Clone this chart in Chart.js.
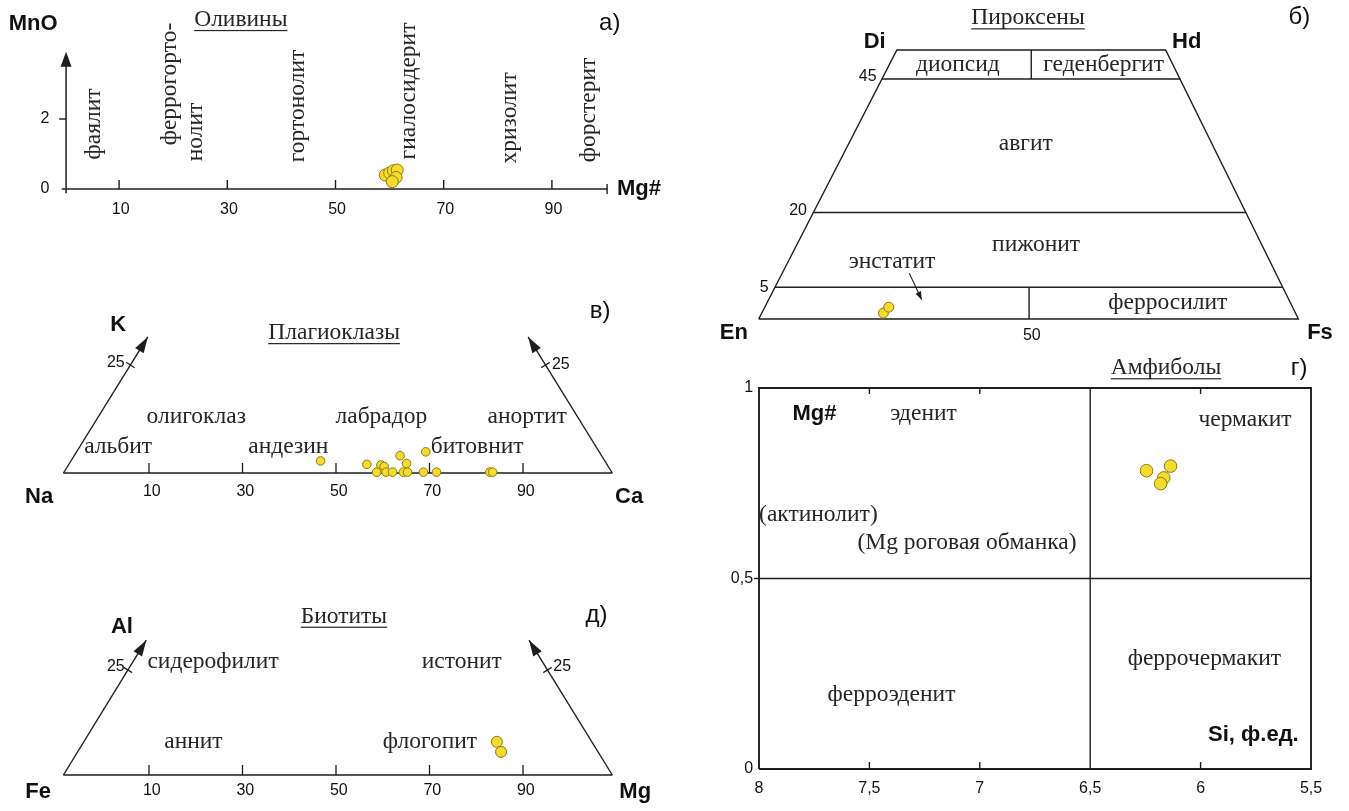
<!DOCTYPE html>
<html>
<head>
<meta charset="utf-8">
<script src="https://cdn.jsdelivr.net/npm/chart.js@4.4.1/dist/chart.umd.min.js"></script>
<style>
  html, body { margin: 0; background: #fff; }
  canvas { display: block; }
</style>
</head>
<body>
<canvas id="fig" width="1349" height="811"></canvas>
<script>
// ---- values ----
// а) olivine: Mg# vs MnO
const olivineMg = [59.2, 60.0, 60.7, 61.4, 61.2, 60.5];
const olivineMnO = [0.40, 0.46, 0.52, 0.54, 0.33, 0.21];
const olivineTicks = [10, 30, 50, 70, 90];
const olivineFields = ["фаялит", "феррогорто-", "нолит", "гортонолит", "гиалосидерит", "хризолит", "форстерит"];

// б) pyroxene quadrilateral (x along En-Fs, y = Wo)
const pyroxX = [23.1, 24.1];
const pyroxY = [1.1, 2.2];
const pyroxLevels = ["45", "20", "5"];

// в) plagioclase (Na-Ca base, K up)
const plagCa = [46.7, 56.6, 59.6, 60.3, 58.7, 60.7, 62.1, 63.7, 65.1, 64.4, 65.3, 69.2, 68.7, 71.5, 82.9, 83.5];
const plagK = [2.8, 2.0, 1.85, 1.5, 0.2, 0.2, 0.2, 4.0, 2.2, 0.2, 0.2, 4.9, 0.2, 0.2, 0.2, 0.2];

// д) biotite (Fe-Mg base, Al up)
const biotMg = [84.4, 85.3];
const biotAl = [7.9, 5.5];

const ternTicks = [10, 30, 50, 70, 90];

// г) amphibole: Si (f.u.) vs Mg#
const amphSi = [6.245, 6.136, 6.167, 6.181];
const amphMg = [0.783, 0.795, 0.764, 0.749];
const amphTicksX = [8, 7.5, 7, 6.5, 6, 5.5];
const amphTickLabelsX = ["8", "7,5", "7", "6,5", "6", "5,5"];
const amphTicksY = [0, 0.5, 1];
const amphTickLabelsY = ["0", "0,5", "1"];

// ---- layout ----
const W = 1349, H = 811;
const SERIF = '23.5px "Liberation Serif", "Times New Roman", serif';
const BOLD = 'bold 22px "Liberation Sans", Arial, sans-serif';
const TICK = '16px "Liberation Sans", Arial, sans-serif';
const TAG = '24px "Liberation Sans", Arial, sans-serif';
const INK = "#1e1e1e";
const FILL = "#f3dc2c";
const EDGE = "#8c7a12";

// value v is drawn at p0 + k*v pixels
function sx(p0, k) {
  const a = -p0 / k, b = (W - p0) / k;
  return { type: "linear", axis: "x", display: false, min: Math.min(a, b), max: Math.max(a, b), reverse: k < 0 };
}
function sy(p0, k) {
  const a = -p0 / k, b = (H - p0) / k;
  return { type: "linear", axis: "y", display: false, min: Math.min(a, b), max: Math.max(a, b), reverse: k > 0 };
}

const scales = {
  xA: sx(65, 5.41), yA: sy(189, -35),
  xB: sx(758.7, 5.397), yB: sy(319, -5.38),
  xV: sx(102.25, 4.675), yV: sy(473, -4.32),
  xD: sx(102.25, 4.675), yD: sy(775, -4.2),
  xG: sx(759 + 220.8 * 8, -220.8), yG: sy(769, -381)
};

function line(p, pts, w) {
  return {
    xAxisID: "x" + p, yAxisID: "y" + p, order: 1,
    data: pts.map(([x, y]) => ({ x, y })),
    showLine: true, borderColor: INK, borderWidth: w || 1.4,
    pointRadius: 0, tension: 0, fill: false
  };
}
function dots(p, xs, ys, r) {
  return {
    xAxisID: "x" + p, yAxisID: "y" + p, order: 0,
    data: xs.map((x, i) => ({ x, y: ys[i] })),
    pointRadius: r, backgroundColor: FILL, borderColor: EDGE, borderWidth: 1
  };
}

// diagram outlines
const vArrowL = [[-8.3, 0], [9.75, 31.5]], vArrowR = [[109.1, 0], [91.1, 31.5]];
const dArrowL = [[-8.3, 0], [9.4, 32.1]], dArrowR = [[109.1, 0], [91.3, 32.1]];
const bArrow = [[27.9, 8.5], [30.2, 3.6]];

const datasets = [
  dots("A", olivineMg, olivineMnO, 6),
  dots("B", pyroxX, pyroxY, 5),
  dots("V", plagCa, plagK, 4.3),
  dots("D", biotMg, biotAl, 5.5),
  dots("G", amphSi, amphMg, 6.3),
  // а)
  line("A", [[-0.6, 0], [100.2, 0]], 1.5),
  line("A", [[0.2, -0.12], [0.2, 3.6]], 1.5),
  // б)
  line("B", [[0, 0], [100, 0], [75.4, 50], [25.6, 50], [0, 0]]),
  line("B", [[22.8, 44.6], [78.1, 44.6]]),
  line("B", [[10.1, 19.8], [90.3, 19.8]]),
  line("B", [[3.0, 5.9], [97.1, 5.9]]),
  line("B", [[50.5, 44.6], [50.5, 50]]),
  line("B", [[50.1, 0], [50.1, 5.9]]),
  line("B", bArrow, 1.1),
  // в)
  line("V", [vArrowL[0], vArrowR[0]]),
  line("V", vArrowL), line("V", vArrowR),
  // д)
  line("D", [dArrowL[0], dArrowR[0]]),
  line("D", dArrowL), line("D", dArrowR),
  // г)
  line("G", [[8, 0], [5.5, 0], [5.5, 1], [8, 1], [8, 0]], 1.9),
  line("G", [[6.5, 0], [6.5, 1]]),
  line("G", [[8, 0.5], [5.5, 0.5]])
];

// text placements: panel, text, x, y, font, options
const notes = [
  ["A", "Оливины", 32.5, 4.83, SERIF, { u: 1 }],
  ["A", "MnO", -5.9, 4.71, BOLD],
  ["A", "а)", 100.7, 4.74, TAG],
  ["A", "Mg#", 106.1, 0, BOLD],
  ["A", "0", -3.7, 0, TICK],
  ["A", "2", -3.7, 2, TICK],
  ["A", olivineFields[0], 5.4, 1.86, SERIF, { rot: 1 }],
  ["A", olivineFields[1], 19.4, 3.0, SERIF, { rot: 1 }],
  ["A", olivineFields[2], 24.1, 1.63, SERIF, { rot: 1 }],
  ["A", olivineFields[3], 43.1, 2.37, SERIF, { rot: 1 }],
  ["A", olivineFields[4], 63.6, 2.8, SERIF, { rot: 1 }],
  ["A", olivineFields[5], 82.3, 2.03, SERIF, { rot: 1 }],
  ["A", olivineFields[6], 96.9, 2.26, SERIF, { rot: 1 }],

  ["B", "Пироксены", 49.9, 55.9, SERIF, { u: 1 }],
  ["B", "б)", 100.2, 56.1, TAG],
  ["B", "Di", 21.5, 51.5, BOLD],
  ["B", "Hd", 79.3, 51.5, BOLD],
  ["B", pyroxLevels[0], 20.2, 45.0, TICK],
  ["B", pyroxLevels[1], 7.3, 20.1, TICK],
  ["B", pyroxLevels[2], 1.0, 5.9, TICK],
  ["B", "диопсид", 36.9, 47.2, SERIF],
  ["B", "геденбергит", 63.9, 47.2, SERIF],
  ["B", "авгит", 49.5, 32.5, SERIF],
  ["B", "пижонит", 51.4, 13.8, SERIF],
  ["B", "энстатит", 24.7, 10.6, SERIF],
  ["B", "ферросилит", 75.8, 3.0, SERIF],
  ["B", "En", -4.6, -2.6, BOLD],
  ["B", "50", 50.6, -3.0, TICK],
  ["B", "Fs", 104.0, -2.6, BOLD],

  ["V", "Плагиоклазы", 49.6, 32.4, SERIF, { u: 1 }],
  ["V", "в)", 106.5, 37.3, TAG],
  ["V", "K", 3.4, 34.3, BOLD],
  ["V", "олигоклаз", 20.1, 13.0, SERIF],
  ["V", "альбит", 3.4, 6.0, SERIF],
  ["V", "андезин", 39.8, 6.0, SERIF],
  ["V", "лабрадор", 59.7, 13.0, SERIF],
  ["V", "анортит", 90.9, 13.0, SERIF],
  ["V", "битовнит", 80.2, 6.0, SERIF],
  ["V", "25", 2.9, 25.5, TICK],
  ["V", "25", 98.1, 25.0, TICK],
  ["V", "Na", -13.5, -5.6, BOLD],
  ["V", "Ca", 112.7, -5.6, BOLD],

  ["D", "Биотиты", 51.7, 37.7, SERIF, { u: 1 }],
  ["D", "д)", 105.7, 38.1, TAG],
  ["D", "Al", 4.2, 35.3, BOLD],
  ["D", "25", 2.9, 25.7, TICK],
  ["D", "сидерофилит", 23.7, 27.0, SERIF],
  ["D", "истонит", 76.9, 27.0, SERIF],
  ["D", "25", 98.4, 25.7, TICK],
  ["D", "аннит", 19.5, 7.9, SERIF],
  ["D", "флогопит", 70.1, 7.9, SERIF],
  ["D", "Fe", -13.7, -4.0, BOLD],
  ["D", "Mg", 114, -4.0, BOLD],

  ["G", "Амфиболы", 6.157, 1.052, SERIF, { u: 1 }],
  ["G", "г)", 5.554, 1.052, TAG],
  ["G", "Mg#", 7.749, 0.931, BOLD],
  ["G", "эденит", 7.255, 0.932, SERIF],
  ["G", "чермакит", 5.799, 0.916, SERIF],
  ["G", "(актинолит)", 7.731, 0.667, SERIF],
  ["G", "(Mg роговая обманка)", 7.058, 0.593, SERIF],
  ["G", "ферроэденит", 7.4, 0.194, SERIF],
  ["G", "феррочермакит", 5.983, 0.290, SERIF],
  ["G", "Si, ф.ед.", 5.761, 0.0906, BOLD]
];
olivineTicks.forEach(t => notes.push(["A", String(t), t + 0.3, -0.6, TICK]));
ternTicks.forEach(t => notes.push(["V", String(t), t + 0.6, -4.3, TICK]));
ternTicks.forEach(t => notes.push(["D", String(t), t + 0.6, -3.6, TICK]));
amphTicksX.forEach((t, i) => notes.push(["G", amphTickLabelsX[i], t, -0.0525, TICK]));
amphTicksY.forEach((t, i) => notes.push(["G", amphTickLabelsY[i], 8.027, t, TICK, { align: "right" }]));

const annot = {
  id: "annot",
  afterDatasetsDraw(chart) {
    const ctx = chart.ctx;
    const P = (p, x, y) => [chart.scales["x" + p].getPixelForValue(x), chart.scales["y" + p].getPixelForValue(y)];
    ctx.save();
    ctx.strokeStyle = INK;
    ctx.fillStyle = INK;

    function seg(a, b, w) {
      ctx.lineWidth = w || 1.3;
      ctx.beginPath(); ctx.moveTo(a[0], a[1]); ctx.lineTo(b[0], b[1]); ctx.stroke();
    }
    function head(from, to, len, wid) {
      const ang = Math.atan2(to[1] - from[1], to[0] - from[0]);
      ctx.save();
      ctx.translate(to[0], to[1]); ctx.rotate(ang);
      ctx.beginPath(); ctx.moveTo(0, 0); ctx.lineTo(-len, wid / 2); ctx.lineTo(-len, -wid / 2); ctx.closePath();
      ctx.fill();
      ctx.restore();
    }
    // tick mark across an inclined arrow at height v
    function armTick(p, arm, v) {
      const [a, b] = arm;
      const t = (v - a[1]) / (b[1] - a[1]);
      const c = P(p, a[0] + (b[0] - a[0]) * t, v);
      const A = P(p, a[0], a[1]), B = P(p, b[0], b[1]);
      const dx = B[0] - A[0], dy = B[1] - A[1], n = Math.hypot(dx, dy);
      const nx = -dy / n * 5, ny = dx / n * 5;
      seg([c[0] - nx, c[1] - ny], [c[0] + nx, c[1] + ny], 1.2);
    }

    // а) axis ticks and arrow
    olivineTicks.forEach(t => { const q = P("A", t, 0); seg(q, [q[0], q[1] - 9], 1.4); });
    { const q = P("A", 100.2, 0); seg([q[0], q[1] - 5], [q[0], q[1] + 5], 1.4); }
    { const q = P("A", 0.2, 2); seg(q, [q[0] - 7, q[1]], 1.4); }
    head(P("A", 0.2, 3.0), P("A", 0.2, 3.92), 15, 11);

    // б) small pointer
    head(P("B", bArrow[0][0], bArrow[0][1]), P("B", bArrow[1][0], bArrow[1][1]), 8, 6);

    // в) д) base ticks, arrows
    [["V", vArrowL, vArrowR], ["D", dArrowL, dArrowR]].forEach(([p, L, R]) => {
      ternTicks.forEach(t => { const q = P(p, t, 0); seg(q, [q[0], q[1] - 10], 1.3); });
      head(P(p, L[0][0], L[0][1]), P(p, L[1][0], L[1][1]), 16, 10);
      head(P(p, R[0][0], R[0][1]), P(p, R[1][0], R[1][1]), 16, 10);
      armTick(p, L, 25);
      armTick(p, R, 25);
    });

    // г) frame ticks
    [7.5, 7, 6].forEach(t => {
      const top = P("G", t, 1), bot = P("G", t, 0);
      seg(top, [top[0], top[1] + 6], 1.4);
      seg(bot, [bot[0], bot[1] - 7], 1.4);
    });
    { const q = P("G", 8, 0.5); seg(q, [q[0] - 5, q[1]], 1.4); }

    // texts
    for (const [p, str, x, y, font, opt = {}] of notes) {
      const [px, py] = P(p, x, y);
      ctx.save();
      ctx.translate(px, py);
      if (opt.rot) ctx.rotate(-Math.PI / 2);
      ctx.font = font;
      ctx.fillStyle = font === SERIF ? "#262626" : "#111";
      ctx.textAlign = opt.align || "center";
      ctx.textBaseline = "middle";
      ctx.fillText(str, 0, 0);
      if (opt.u) {
        const w = ctx.measureText(str).width;
        ctx.fillRect(-w / 2, 10, w, 1.2);
      }
      ctx.restore();
    }
    ctx.restore();
  }
};

new Chart(document.getElementById("fig"), {
  type: "scatter",
  data: { datasets },
  options: {
    responsive: false,
    devicePixelRatio: 1,
    animation: false,
    events: [],
    layout: { padding: 0, autoPadding: false },
    plugins: { legend: { display: false }, tooltip: { enabled: false } },
    scales
  },
  plugins: [annot]
});
</script>
</body>
</html>
